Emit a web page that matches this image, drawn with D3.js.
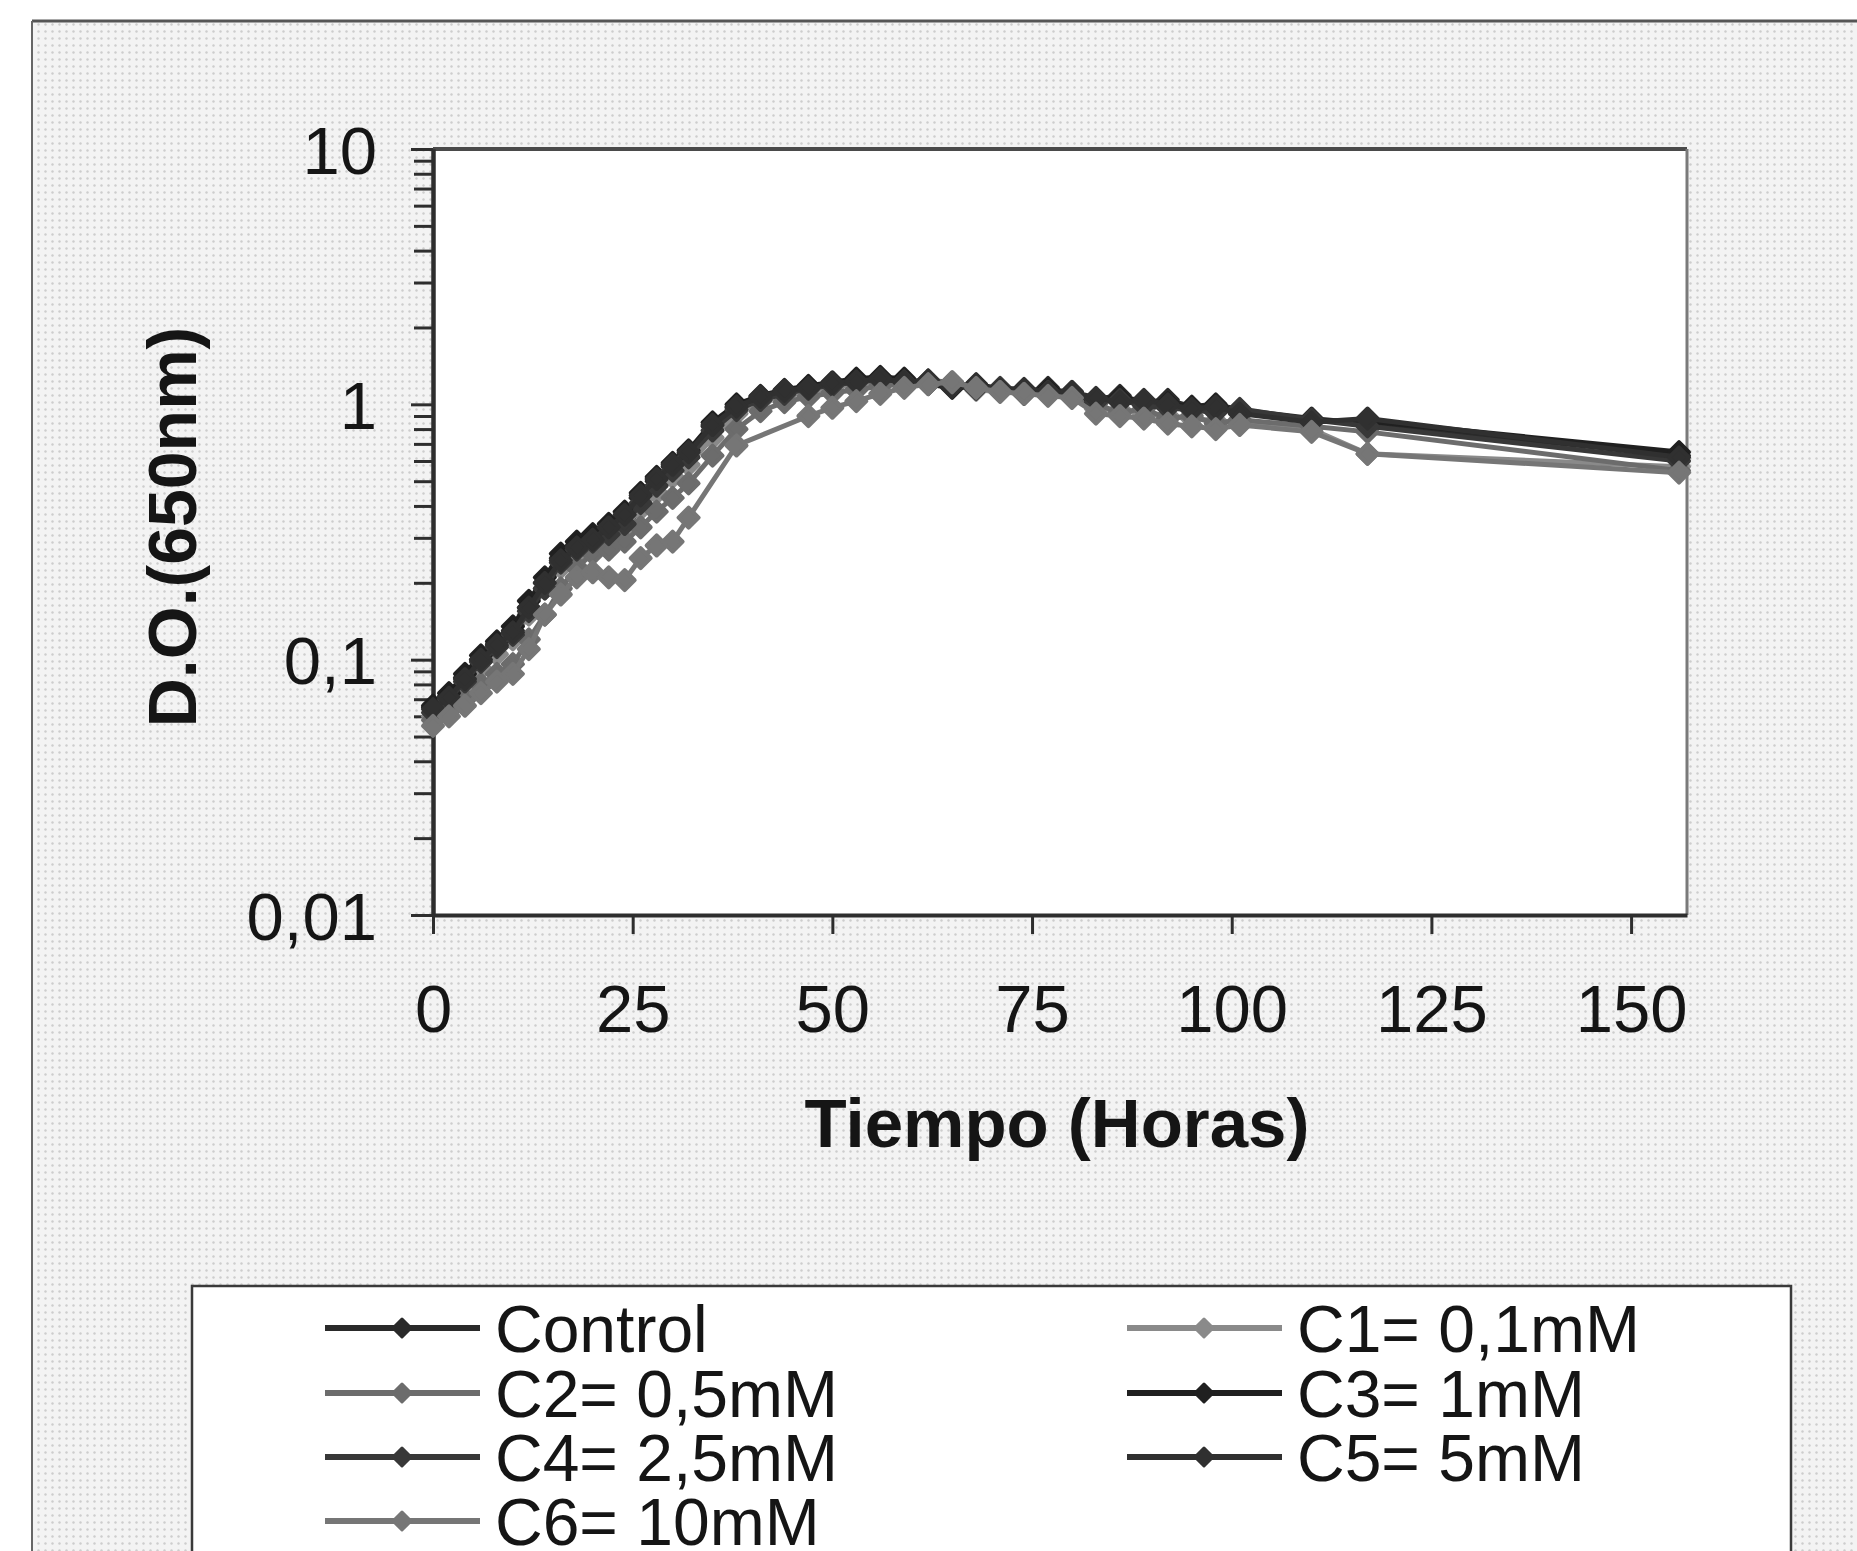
<!DOCTYPE html>
<html lang="es">
	<head>
		<meta charset="utf-8">
		<title>D.O. (650nm) vs tiempo</title>
		<script type="text/javascript" src="https://cdn.jsdelivr.net/npm/d3@7"></script>
		<style type="text/css">
			body { margin: 0; background: #ffffff; }
			text { font-family: "Liberation Sans", Arial, sans-serif; fill: #151515; }
		</style>
	</head>
	<body>
		<script type="text/javascript">

			// Data
			var hours = [0, 2, 4, 6, 8, 10, 12, 14, 16, 18, 20, 22, 24, 26, 28, 30, 32, 35, 38, 41,
			             44, 47, 50, 53, 56, 59, 62, 65, 68, 71, 74, 77, 80, 83, 86, 89, 92, 95, 98, 101,
			             110, 117, 156];

			var control = [0.065, 0.072, 0.085, 0.10, 0.115, 0.13, 0.16, 0.20, 0.25, 0.28, 0.30, 0.32, 0.36, 0.43, 0.50, 0.57, 0.64, 0.82, 0.97, 1.06,
			               1.12, 1.17, 1.20, 1.24, 1.27, 1.25, 1.22, 1.18, 1.20, 1.15, 1.12, 1.16, 1.10, 1.05, 1.08, 1.02, 1.04, 0.98, 1.00, 0.95,
			               0.88, 0.84, 0.63];
			var c1 = [0.060, 0.066, 0.078, 0.092, 0.105, 0.12, 0.15, 0.19, 0.23, 0.26, 0.28, 0.30, 0.33, 0.39, 0.45, 0.52, 0.58, 0.74, 0.92, 1.03,
			          1.08, 1.12, 1.16, 1.20, 1.22, 1.24, 1.23, 1.20, 1.14, 1.12, 1.13, 1.10, 1.08, 0.96, 0.95, 0.92, 0.90, 0.88, 0.86, 0.85,
			          0.80, 0.64, 0.57];
			var c2 = [0.058, 0.063, 0.070, 0.080, 0.088, 0.096, 0.12, 0.15, 0.19, 0.23, 0.26, 0.27, 0.29, 0.33, 0.38, 0.43, 0.49, 0.63, 0.80, 0.94,
			          1.02, 1.07, 1.11, 1.14, 1.18, 1.21, 1.24, 1.22, 1.17, 1.15, 1.10, 1.12, 1.06, 1.00, 0.93, 0.96, 0.88, 0.90, 0.84, 0.87,
			          0.82, 0.78, 0.55];
			var c3 = [0.066, 0.074, 0.088, 0.104, 0.118, 0.135, 0.17, 0.21, 0.26, 0.29, 0.31, 0.34, 0.38, 0.45, 0.52, 0.59, 0.66, 0.85, 1.00, 1.08,
			          1.14, 1.18, 1.22, 1.26, 1.28, 1.26, 1.20, 1.16, 1.18, 1.13, 1.10, 1.14, 1.09, 1.04, 1.06, 1.03, 1.01, 0.97, 0.99, 0.94,
			          0.86, 0.86, 0.65];
			var c4 = [0.062, 0.070, 0.082, 0.098, 0.112, 0.125, 0.155, 0.19, 0.24, 0.27, 0.29, 0.31, 0.34, 0.41, 0.48, 0.55, 0.62, 0.79, 0.95, 1.04,
			          1.10, 1.15, 1.19, 1.22, 1.25, 1.23, 1.21, 1.19, 1.15, 1.16, 1.14, 1.12, 1.11, 1.02, 1.04, 0.99, 0.97, 0.95, 0.93, 0.96,
			          0.87, 0.82, 0.60];
			var c5 = [0.064, 0.071, 0.084, 0.100, 0.114, 0.128, 0.16, 0.20, 0.245, 0.275, 0.295, 0.33, 0.37, 0.44, 0.51, 0.58, 0.65, 0.83, 0.98, 1.07,
			          1.13, 1.16, 1.21, 1.23, 1.26, 1.22, 1.24, 1.17, 1.19, 1.14, 1.15, 1.11, 1.12, 1.06, 1.02, 1.04, 1.00, 0.96, 0.98, 0.92,
			          0.85, 0.88, 0.62];
			var c6 = [0.055, 0.060, 0.066, 0.074, 0.082, 0.088, 0.11, 0.15, 0.18, 0.21, 0.22, 0.21, 0.205, 0.25, 0.28, 0.29, 0.36, null, 0.69, null,
			          null, 0.90, 0.97, 1.03, 1.10, 1.16, 1.20, 1.22, 1.16, 1.12, 1.10, 1.08, 1.06, 0.92, 0.90, 0.88, 0.84, 0.82, 0.80, 0.83,
			          0.78, 0.64, 0.54];

			var seriesNames = ["Control", "C1= 0,1mM", "C2= 0,5mM", "C3= 1mM", "C4= 2,5mM", "C5= 5mM", "C6= 10mM"];
			var seriesValues = [control, c1, c2, c3, c4, c5, c6];
			var seriesColors = ["#2a2a2a", "#8a8a8a", "#6c6c6c", "#202020", "#383838", "#303030", "#767676"];

			var xTicks = [0, 25, 50, 75, 100, 125, 150];
			var yTicks = [0.01, 0.1, 1, 10];
			var yTickLabels = ["0,01", "0,1", "1", "10"];

			// Width, height, plot box
			var w = 1857;
			var h = 1551;
			var plot = { left: 433, top: 149, right: 1687, bottom: 915 };

			// Scales
			var xScale = d3.scaleLinear()
						   .domain([0, 157])
						   .range([plot.left, plot.right]);

			var yScale = d3.scaleLog()
						   .domain([0.01, 10])
						   .range([plot.bottom, plot.top]);

			// SVG
			var svg = d3.select("body")
						.append("svg")
						.attr("width", w)
						.attr("height", h);

			// Dotted grey background of the chart area
			var pattern = svg.append("defs")
							 .append("pattern")
							 .attr("id", "dots")
							 .attr("width", 7)
							 .attr("height", 7)
							 .attr("patternUnits", "userSpaceOnUse");
			pattern.append("rect")
				   .attr("width", 7)
				   .attr("height", 7)
				   .attr("fill", "#f3f3f3");
			pattern.append("circle")
				   .attr("cx", 3.5)
				   .attr("cy", 3.5)
				   .attr("r", 1.2)
				   .attr("fill", "#cdcdcd");

			svg.append("rect")
			   .attr("x", 32)
			   .attr("y", 21)
			   .attr("width", w)
			   .attr("height", h)
			   .attr("fill", "url(#dots)");
			svg.append("line")
			   .attr("x1", 32).attr("x2", w)
			   .attr("y1", 21).attr("y2", 21)
			   .attr("stroke", "#555").attr("stroke-width", 3);
			svg.append("line")
			   .attr("x1", 32).attr("x2", 32)
			   .attr("y1", 21).attr("y2", h)
			   .attr("stroke", "#666").attr("stroke-width", 2);

			// Plot area
			svg.append("rect")
			   .attr("x", plot.left)
			   .attr("y", plot.top)
			   .attr("width", plot.right - plot.left)
			   .attr("height", plot.bottom - plot.top)
			   .attr("fill", "#ffffff");
			svg.append("line")
			   .attr("x1", plot.left).attr("x2", plot.right)
			   .attr("y1", plot.top).attr("y2", plot.top)
			   .attr("stroke", "#4a4a4a").attr("stroke-width", 4);
			svg.append("line")
			   .attr("x1", plot.right).attr("x2", plot.right)
			   .attr("y1", plot.top).attr("y2", plot.bottom)
			   .attr("stroke", "#7a7a7a").attr("stroke-width", 3);

			// Axes
			var minorTicks = [];
			[0.01, 0.1, 1].forEach(function(d) {
				for (var k = 2; k <= 9; k++) { minorTicks.push(d * k); }
			});

			var yAxis = d3.axisLeft(yScale)
						  .tickValues(yTicks)
						  .tickFormat(function(d, i) { return yTickLabels[i]; })
						  .tickSizeInner(22)
						  .tickSizeOuter(0)
						  .tickPadding(34);
			var yMinor = d3.axisLeft(yScale)
						   .tickValues(minorTicks)
						   .tickFormat("")
						   .tickSizeInner(19)
						   .tickSizeOuter(0);
			var xAxis = d3.axisBottom(xScale)
						  .tickValues(xTicks)
						  .tickSizeInner(19)
						  .tickSizeOuter(0)
						  .tickPadding(50);

			var gyMinor = svg.append("g")
							 .attr("class", "y minor")
							 .attr("transform", "translate(" + plot.left + ",0)")
							 .call(yMinor);
			var gy = svg.append("g")
						.attr("class", "y axis")
						.attr("transform", "translate(" + plot.left + ",0)")
						.call(yAxis);
			var gx = svg.append("g")
						.attr("class", "x axis")
						.attr("transform", "translate(0," + plot.bottom + ")")
						.call(xAxis);

			[gyMinor, gy, gx].forEach(function(g) {
				g.selectAll(".domain").attr("stroke", "#2e2e2e").attr("stroke-width", 4);
				g.selectAll(".tick line").attr("stroke", "#2e2e2e").attr("stroke-width", 3);
				g.selectAll(".tick text")
				 .attr("font-size", 67)
				 .attr("fill", "#151515")
				 .style("font-family", "'Liberation Sans', Arial, sans-serif");
			});
			gy.selectAll(".tick text").attr("dy", "0.36em");

			// Axis titles
			svg.append("text")
			   .attr("x", 1057)
			   .attr("y", 1147)
			   .attr("text-anchor", "middle")
			   .attr("font-size", 69)
			   .attr("font-weight", "bold")
			   .text("Tiempo (Horas)");

			svg.append("text")
			   .attr("transform", "translate(196,527) rotate(-90)")
			   .attr("text-anchor", "middle")
			   .attr("font-size", 68)
			   .attr("font-weight", "bold")
			   .text("D.O.(650nm)");

			// Series
			var diamond = function(r) {
				return "M0," + (-r) + "L" + r + ",0L0," + r + "L" + (-r) + ",0Z";
			};

			var line = d3.line()
						 .x(function(d) { return xScale(d[0]); })
						 .y(function(d) { return yScale(d[1]); });

			var series = seriesValues.map(function(vals, i) {
				var pts = [];
				vals.forEach(function(v, j) {
					if (v !== null) { pts.push([hours[j], v]); }
				});
				return { name: seriesNames[i], color: seriesColors[i], points: pts };
			});

			var gSeries = svg.append("g")
							 .selectAll("g")
							 .data(series)
							 .enter()
							 .append("g");

			gSeries.append("path")
				   .attr("d", function(d) { return line(d.points); })
				   .attr("fill", "none")
				   .attr("stroke", function(d) { return d.color; })
				   .attr("stroke-width", 5);

			gSeries.selectAll("path.marker")
				   .data(function(d) { return d.points.map(function(p) { return { p: p, color: d.color }; }); })
				   .enter()
				   .append("path")
				   .attr("class", "marker")
				   .attr("d", diamond(10))
				   .attr("transform", function(d) {
						return "translate(" + xScale(d.p[0]) + "," + yScale(d.p[1]) + ")";
				   })
				   .attr("fill", function(d) { return d.color; })
				   .attr("stroke", function(d) { return d.color; })
				   .attr("stroke-width", 4)
				   .attr("stroke-linejoin", "round");

			// Legend
			svg.append("rect")
			   .attr("x", 192)
			   .attr("y", 1286)
			   .attr("width", 1791 - 192)
			   .attr("height", 400)
			   .attr("fill", "#ffffff")
			   .attr("stroke", "#3a3a3a")
			   .attr("stroke-width", 2.5);

			// legend order: Control | C1, C2 | C3, C4 | C5, C6
			var legendCols = [325, 1127];
			var legendRows = [1328, 1393, 1457, 1521];
			var legendPos = [[0, 0], [1, 0], [0, 1], [1, 1], [0, 2], [1, 2], [0, 3]];

			var legend = svg.append("g")
							.selectAll("g")
							.data(series)
							.enter()
							.append("g")
							.attr("transform", function(d, i) {
								return "translate(" + legendCols[legendPos[i][0]] + "," + legendRows[legendPos[i][1]] + ")";
							});

			legend.append("line")
				  .attr("x1", 0)
				  .attr("x2", 155)
				  .attr("stroke", function(d) { return d.color; })
				  .attr("stroke-width", 6);
			legend.append("path")
				  .attr("d", diamond(9))
				  .attr("transform", "translate(77,0)")
				  .attr("fill", function(d) { return d.color; })
				  .attr("stroke", function(d) { return d.color; })
				  .attr("stroke-width", 3)
				  .attr("stroke-linejoin", "round");
			legend.append("text")
				  .attr("x", 170)
				  .attr("y", 24)
				  .attr("font-size", 66)
				  .text(function(d) { return d.name; });

		</script>
	</body>
</html>
